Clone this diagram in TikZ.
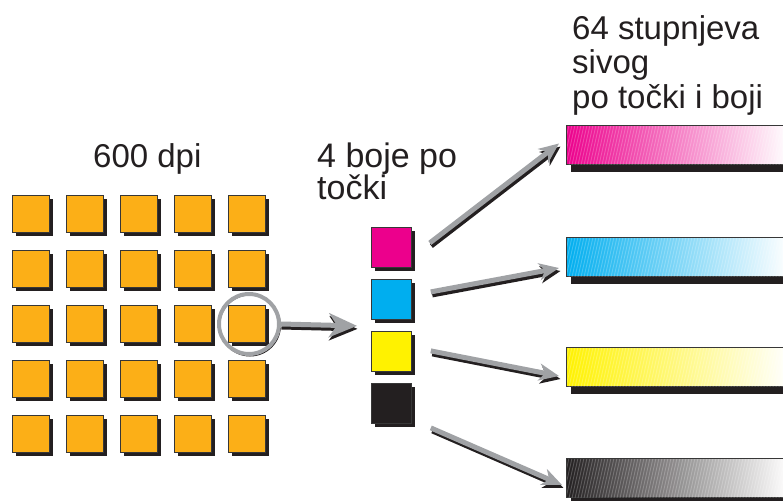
\documentclass[tikz,border=0pt]{standalone}
\usepackage{fontspec}
\setmainfont{Liberation Sans}
\usetikzlibrary{shadows,arrows.meta,calc}
\definecolor{orng}{RGB}{252,175,23}
\definecolor{shd}{RGB}{35,31,32}
\definecolor{agray}{RGB}{160,162,165}
\definecolor{mag}{RGB}{236,0,140}
\definecolor{cyn}{RGB}{0,174,239}
\definecolor{yel}{RGB}{255,242,0}
\definecolor{blk}{RGB}{35,31,32}
\definecolor{edge}{RGB}{55,55,55}
\begin{document}
\begin{tikzpicture}[x=1pt,y=-1pt,
  sq/.style={draw=edge,line width=0.8pt,minimum size=37pt,inner sep=0pt,anchor=north west,
    drop shadow={shadow xshift=4pt,shadow yshift=-4pt,fill=shd,opacity=1}},
  csq/.style={sq,minimum size=40pt},
  bar/.style={draw=edge,line width=1pt,minimum width=222pt,minimum height=39pt,inner sep=0pt,anchor=north west,
    drop shadow={shadow xshift=4pt,shadow yshift=-7pt,fill=shd,opacity=1}},
  txt/.style={font=\fontsize{33}{34}\selectfont,text=shd,inner sep=0pt,align=left,anchor=base west},
  garrow/.style={draw=agray,line width=5pt,-{Stealth[length=20pt,width=17pt,inset=6pt,fill=agray]}},
  sarrow/.style={draw=shd,line width=5pt,-{Stealth[length=20pt,width=17pt,inset=6pt,fill=shd]}},
  bigg/.style={garrow,-{Stealth[length=28pt,width=24pt,inset=8pt,fill=agray]}},
  bigs/.style={sarrow,-{Stealth[length=28pt,width=24pt,inset=8pt,fill=shd]}}
]
\clip (0,0) rectangle (783,500);
% grid of dots
\foreach \r in {0,...,4}{
  \foreach \c in {0,...,4}{
    \node[sq,fill=orng] (g\r\c) at ({12+54*\c},{195+55*\r}) {};
  }
}
% magnifier ring
\node[circle,draw=shd,line width=1pt,minimum size=61pt,inner sep=0pt] (ringshadow) at (250,325.5) {};
\node[circle,draw=agray,line width=4pt,minimum size=60pt,inner sep=0pt] (ring) at (249,324) {};
% CMYK squares
\node[csq,fill=mag] (m) at (371,227) {};
\node[csq,fill=cyn] (c) at (371,279) {};
\node[csq,fill=yel] (y) at (371,331) {};
\node[csq,fill=blk] (k) at (371,383) {};
% gradient bars
\node[bar,left color=mag,right color=white] (bm) at (566,125) {};
\node[bar,left color=cyn,right color=white] (bc) at (566,237) {};
\node[bar,left color=yel,right color=white] (by) at (566,347) {};
\node[bar,left color=blk,right color=white] (bk) at (566,458) {};
% fine line texture of the halftone bars
\foreach \b in {bm,bc,by,bk}{
  \begin{scope}
    \clip ($(\b.north west)+(1,1)$) rectangle ($(\b.south east)+(-1,-1)$);
    \foreach \i in {0,3,...,240}{
      \draw[white,opacity=0.22,line width=0.9pt] ($(\b.north west)+(\i,0)$) -- ++(-9,40);
    }
  \end{scope}
}
% texts
\node[txt] (t600) at (93,167) {600 dpi};
\node[txt,font=\fontsize{34}{32}\selectfont] (t4) at (317,199) {4 boje po\\točki};
\node[txt] (t64) at (572,108) {64 stupnjeva\\sivog\\po točki i boji};
% arrow from ring to CMYK
\coordinate (tip0) at ($(c.south west)!0.5!(y.north west)+(-14,0.5)$);
\draw[bigs,transform canvas={xshift=0.5pt,yshift=-3pt}] (ring.east) -- (tip0);
\draw[bigg] (ring.east) -- (tip0);
% arrows from CMYK squares to bars
\foreach \s/\b/\sa/\ta in {m/bm/{18,-4.5}/{-7,-1.5}, c/bc/{19,-7.5}/{-7,11}, y/by/{19,-0.5}/{-7,9}, k/bk/{19,24.5}/{-4,7}}{
  \draw[sarrow,transform canvas={xshift=1.5pt,yshift=-3pt}] ($(\s.east)+(\sa)$) -- ($(\b.west)+(\ta)$);
  \draw[garrow] ($(\s.east)+(\sa)$) -- ($(\b.west)+(\ta)$);
}
\end{tikzpicture}
\end{document}
